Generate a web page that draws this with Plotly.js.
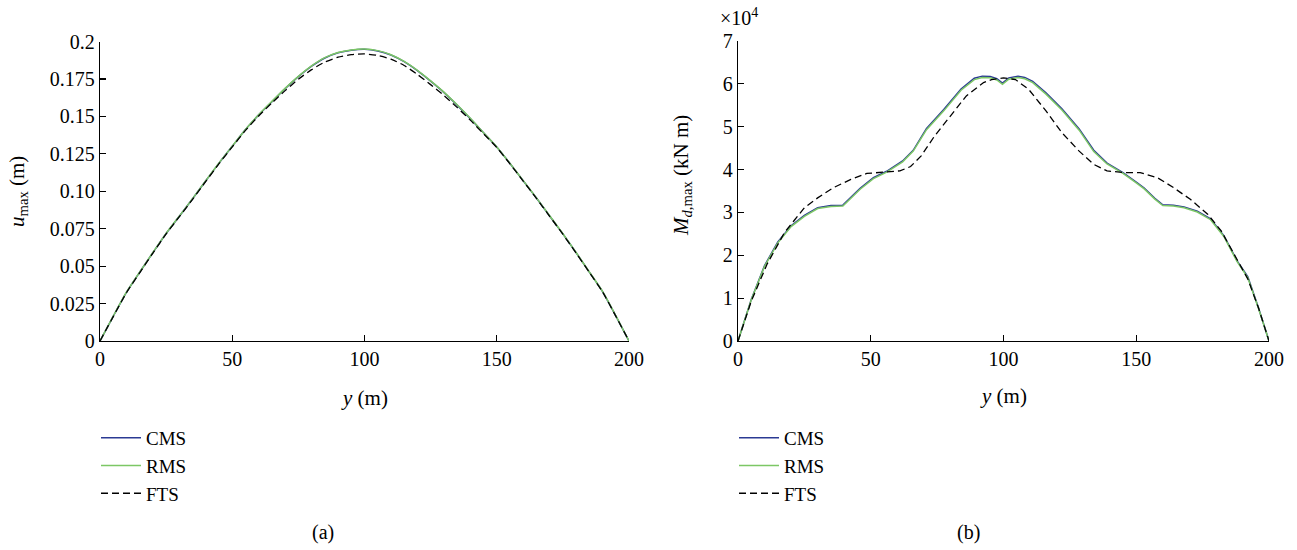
<!DOCTYPE html>
<html>
<head>
<meta charset="utf-8">
<script src="https://cdn.plot.ly/plotly-3.0.1.min.js"></script>
<style>html,body{margin:0;padding:0;background:#fff;}#chart{width:1297px;height:550px;}</style>
</head>
<body>
<div id="chart"></div>
<script>
// ---- Panel (a): u_max vs y ----
const yA = [0,5,10,15,20,25,30,35,40,45,50,55,60,65,70,75,80,85,90,95,100,105,110,115,120,125,130,135,140,145,150,155,160,165,170,175,180,185,190,195,200];
const uCMS = [0,0.0165,0.0325,0.0459,0.0590,0.0718,0.0833,0.0950,0.1070,0.1188,0.1300,0.1412,0.1510,0.1598,0.1685,0.1765,0.1835,0.1890,0.1925,0.1942,0.1948,0.1937,0.1910,0.1865,0.1805,0.1735,0.1660,0.1575,0.1485,0.1390,0.1295,0.1185,0.1070,0.0955,0.0835,0.0715,0.0590,0.0460,0.0330,0.0168,0];
const uRMS = [0,0.0166,0.0326,0.0460,0.0591,0.0719,0.0834,0.0951,0.1071,0.1189,0.1301,0.1413,0.1511,0.1600,0.1687,0.1767,0.1837,0.1892,0.1927,0.1944,0.1950,0.1939,0.1912,0.1867,0.1807,0.1737,0.1662,0.1577,0.1487,0.1391,0.1296,0.1186,0.1071,0.0956,0.0836,0.0716,0.0591,0.0461,0.0331,0.0169,0];
const uFTS = [0,0.0163,0.0322,0.0455,0.0587,0.0715,0.0830,0.0946,0.1066,0.1184,0.1296,0.1406,0.1503,0.1590,0.1672,0.1748,0.1812,0.1863,0.1895,0.1912,0.1917,0.1907,0.1882,0.1840,0.1780,0.1712,0.1640,0.1560,0.1475,0.1384,0.1292,0.1183,0.1068,0.0953,0.0833,0.0713,0.0588,0.0458,0.0328,0.0166,0];
const uTickVals = [0,0.025,0.05,0.075,0.1,0.125,0.15,0.175,0.2];
const uTickText = ["0","0.025","0.05","0.075","0.10","0.125","0.15","0.175","0.2"];

// ---- Panel (b): M_d,max vs y (x 10^4 kN m) ----
const yB_CMS = [0,5,10,15,20,25,30,35,39.5,42,46,51,56,62,66,71,77.5,84,89,92,95,97.5,99.6,102,105.5,108,111,116,122,128.5,134,139,145,150,153,157,160,164,168,173,178,183,188,192,196,200];
const mCMS   = [0,0.97,1.76,2.31,2.69,2.93,3.11,3.16,3.17,3.32,3.56,3.81,3.96,4.20,4.45,4.96,5.40,5.88,6.13,6.18,6.17,6.12,6.02,6.14,6.18,6.15,6.06,5.79,5.42,4.95,4.45,4.15,3.93,3.71,3.57,3.33,3.18,3.17,3.13,3.03,2.85,2.46,1.87,1.50,0.78,0];
const mRMS   = [0,0.96,1.74,2.29,2.67,2.91,3.09,3.14,3.15,3.30,3.54,3.79,3.94,4.18,4.43,4.93,5.37,5.85,6.10,6.15,6.14,6.09,5.99,6.11,6.15,6.12,6.03,5.76,5.39,4.92,4.42,4.13,3.91,3.69,3.55,3.31,3.16,3.15,3.11,3.01,2.83,2.44,1.85,1.48,0.77,0];
const yB_FTS = [0,5,11,17.5,21,25,30,36,42.5,48.5,55,61,65,69,74,80,86,92.5,95.5,100,104.5,109.5,116,122,128.5,134,139,145,151.5,158,164,170.5,177,182,188,192,196,200];
const mFTS   = [0,0.93,1.80,2.53,2.80,3.11,3.34,3.58,3.77,3.91,3.94,3.97,4.07,4.32,4.78,5.25,5.72,6.03,6.10,6.14,6.10,5.87,5.37,4.86,4.43,4.12,3.97,3.93,3.93,3.81,3.58,3.30,2.95,2.57,1.91,1.45,0.78,0];
const mTickVals = [0,1,2,3,4,5,6,7];
const mTickText = ["0","1","2","3","4","5","6","7"];

const xTickVals = [0,50,100,150,200];
const seriesNames = ["CMS","RMS","FTS"];

const FONT = "'Liberation Serif', serif";
const cBlue = "#2b3a93", cGreen = "#7cc765", cBlack = "#000000";

const traces = [
  {x:yA, y:uCMS, name:seriesNames[0], type:"scatter", mode:"lines", line:{color:cBlue,width:1.5,shape:"spline",smoothing:0.6}, xaxis:"x", yaxis:"y", legend:"legend"},
  {x:yA, y:uRMS, name:seriesNames[1], type:"scatter", mode:"lines", line:{color:cGreen,width:1.5,shape:"spline",smoothing:0.6}, xaxis:"x", yaxis:"y", legend:"legend"},
  {x:yA, y:uFTS, name:seriesNames[2], type:"scatter", mode:"lines", line:{color:cBlack,width:1.3,dash:"7px,4px",shape:"spline",smoothing:0.6}, xaxis:"x", yaxis:"y", legend:"legend"},
  {x:yB_CMS, y:mCMS, name:seriesNames[0], type:"scatter", mode:"lines", line:{color:cBlue,width:1.5}, xaxis:"x2", yaxis:"y2", legend:"legend2"},
  {x:yB_CMS, y:mRMS, name:seriesNames[1], type:"scatter", mode:"lines", line:{color:cGreen,width:1.5}, xaxis:"x2", yaxis:"y2", legend:"legend2"},
  {x:yB_FTS, y:mFTS, name:seriesNames[2], type:"scatter", mode:"lines", line:{color:cBlack,width:1.3,dash:"7px,4px"}, xaxis:"x2", yaxis:"y2", legend:"legend2"}
];

const W = 1297, H = 550;
const px = v => v / W, py = v => 1 - v / H;

const axisCommon = {
  showline:true, linecolor:"#000", linewidth:1.2, ticks:"inside", ticklen:6, tickwidth:1.2, tickcolor:"#000",
  showgrid:false, zeroline:false, mirror:false, tickfont:{family:FONT, size:20, color:"#000"}, fixedrange:true
};

const legendCommon = {
  font:{family:FONT, size:19, color:"#000"}, bgcolor:"rgba(0,0,0,0)", borderwidth:0,
  xanchor:"left", yanchor:"top", tracegroupgap:0, itemwidth:40, orientation:"v"
};

const layout = {
  width:W, height:H, margin:{l:0,r:0,t:0,b:0}, paper_bgcolor:"#fff", plot_bgcolor:"#fff",
  font:{family:FONT, size:20, color:"#000"},
  showlegend:true,
  xaxis:Object.assign({}, axisCommon, {domain:[px(100), px(629)], range:[0,200], tickvals:xTickVals, anchor:"y"}),
  yaxis:Object.assign({}, axisCommon, {domain:[py(341), py(41.5)], range:[0,0.2], tickvals:uTickVals, ticktext:uTickText, anchor:"x"}),
  xaxis2:Object.assign({}, axisCommon, {domain:[px(738), px(1269)], range:[0,200], tickvals:xTickVals, anchor:"y2"}),
  yaxis2:Object.assign({}, axisCommon, {domain:[py(341), py(41)], range:[0,7], tickvals:mTickVals, ticktext:mTickText, anchor:"x2"}),
  legend:Object.assign({}, legendCommon, {x:px(96), y:py(419)}),
  legend2:Object.assign({}, legendCommon, {x:px(734), y:py(419)}),
  annotations:[
    {text:"<i>u</i><sub>max</sub> (m)", xref:"paper", yref:"paper", x:px(18), y:py(192), textangle:-90, showarrow:false, font:{family:FONT,size:21,color:"#000"}, xanchor:"center", yanchor:"middle"},
    {text:"<i>M</i><sub><i>d</i>,max</sub> (kN m)", xref:"paper", yref:"paper", x:px(682), y:py(176), textangle:-90, showarrow:false, font:{family:FONT,size:21,color:"#000"}, xanchor:"center", yanchor:"middle"},
    {text:"<i>y</i> (m)", xref:"paper", yref:"paper", x:px(364), y:py(398), showarrow:false, font:{family:FONT,size:21,color:"#000"}, xanchor:"center", yanchor:"middle"},
    {text:"<i>y</i> (m)", xref:"paper", yref:"paper", x:px(1003), y:py(396), showarrow:false, font:{family:FONT,size:21,color:"#000"}, xanchor:"center", yanchor:"middle"},
    {text:"×10<sup>4</sup>", xref:"paper", yref:"paper", x:px(718), y:py(17), showarrow:false, font:{family:FONT,size:20,color:"#000"}, xanchor:"left", yanchor:"middle"},
    {text:"(a)", xref:"paper", yref:"paper", x:px(323), y:py(532), showarrow:false, font:{family:FONT,size:20,color:"#000"}, xanchor:"center", yanchor:"middle"},
    {text:"(b)", xref:"paper", yref:"paper", x:px(968), y:py(532), showarrow:false, font:{family:FONT,size:20,color:"#000"}, xanchor:"center", yanchor:"middle"}
  ]
};

Plotly.newPlot("chart", traces, layout, {staticPlot:true, displayModeBar:false});
</script>
</body>
</html>
